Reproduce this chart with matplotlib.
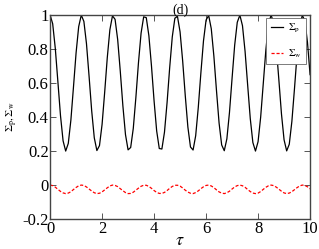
import matplotlib
matplotlib.use('Agg')
import matplotlib.pyplot as plt

plt.rcParams['font.family'] = 'Liberation Serif'
plt.rcParams['mathtext.fontset'] = 'stix'

# tau sampled every 0.1
tau = [i / 10 for i in range(101)]

sigma_p = [1.000, 0.948, 0.804, 0.608, 0.409, 0.260, 0.200, 0.245, 0.382, 0.577,
           0.777, 0.931, 0.999, 0.962, 0.831, 0.639, 0.437, 0.278, 0.203, 0.232,
           0.357, 0.546, 0.749, 0.913, 0.995, 0.974, 0.855, 0.669, 0.466, 0.297,
           0.207, 0.221, 0.333, 0.515, 0.720, 0.893, 0.989, 0.984, 0.878, 0.700,
           0.495, 0.318, 0.215, 0.212, 0.311, 0.485, 0.690, 0.871, 0.981, 0.991,
           0.900, 0.729, 0.525, 0.341, 0.224, 0.206, 0.290, 0.456, 0.659, 0.847,
           0.970, 0.997, 0.919, 0.758, 0.556, 0.365, 0.236, 0.202, 0.272, 0.427,
           0.628, 0.822, 0.957, 0.999, 0.937, 0.786, 0.587, 0.391, 0.250, 0.200,
           0.255, 0.400, 0.597, 0.795, 0.943, 1.000, 0.953, 0.813, 0.618, 0.418,
           0.266, 0.201, 0.240, 0.374, 0.566, 0.768, 0.925, 0.998, 0.966, 0.839,
           0.649]

sigma_w = [0.000, -0.003, -0.012, -0.025, -0.037, -0.046, -0.050, -0.047, -0.039, -0.026,
           -0.014, -0.004, -0.000, -0.002, -0.011, -0.023, -0.035, -0.045, -0.050, -0.048,
           -0.040, -0.028, -0.016, -0.005, -0.000, -0.002, -0.009, -0.021, -0.033, -0.044,
           -0.050, -0.049, -0.042, -0.030, -0.018, -0.007, -0.001, -0.001, -0.008, -0.019,
           -0.032, -0.043, -0.049, -0.049, -0.043, -0.032, -0.019, -0.008, -0.001, -0.001,
           -0.006, -0.017, -0.030, -0.041, -0.048, -0.050, -0.044, -0.034, -0.021, -0.010,
           -0.002, -0.000, -0.005, -0.015, -0.028, -0.040, -0.047, -0.050, -0.045, -0.036,
           -0.023, -0.011, -0.003, -0.000, -0.004, -0.013, -0.026, -0.038, -0.047, -0.050,
           -0.047, -0.038, -0.025, -0.013, -0.004, -0.000, -0.003, -0.012, -0.024, -0.036,
           -0.046, -0.050, -0.047, -0.039, -0.027, -0.015, -0.005, -0.000, -0.002, -0.010,
           -0.022]

xticks = [0, 2, 4, 6, 8, 10]
yticks = [-0.2, 0, 0.2, 0.4, 0.6, 0.8, 1]
ytick_labels = ['-0.2', '0', '0.2', '0.4', '0.6', '0.8', '1']

fig = plt.figure(figsize=(3.19, 2.49), dpi=100)
ax = fig.add_axes([0.157, 0.12, 0.815, 0.82])

ax.plot(tau, sigma_p, color='black', lw=0.9, label=r'$\Sigma_{\rm p}$')
ax.plot(tau, sigma_w, color='red', lw=0.9, ls=(0, (2.5, 1.5)), label=r'$\Sigma_{\rm w}$')

ax.set_xlim(0, 10)
ax.set_ylim(-0.2, 1)
ax.set_xticks(xticks)
ax.set_yticks(yticks)
ax.set_yticklabels(ytick_labels)
ax.tick_params(direction='in', top=True, right=True, length=4, width=0.7,
               labelsize=12, pad=1, color='#555555')
for s in ax.spines.values():
    s.set_linewidth(1.0)
    s.set_color('#444444')

ax.set_xlabel(r'$\tau$', fontsize=13, labelpad=-3)
ax.set_ylabel(r'$\Sigma_{\rm p},\Sigma_{\rm w}$', fontsize=8, labelpad=2)
ax.set_title('(d)', fontsize=10, pad=1)

leg = ax.legend(loc='upper right', bbox_to_anchor=(0.985, 0.985), fontsize=7.5,
                frameon=True, fancybox=False, framealpha=1,
                handlelength=1.2, borderaxespad=0.0, labelspacing=1.15,
                handletextpad=0.5, borderpad=0.4)
leg.get_frame().set_edgecolor('#666666')
leg.get_frame().set_linewidth(0.6)

fig.savefig('out.png', dpi=100)
